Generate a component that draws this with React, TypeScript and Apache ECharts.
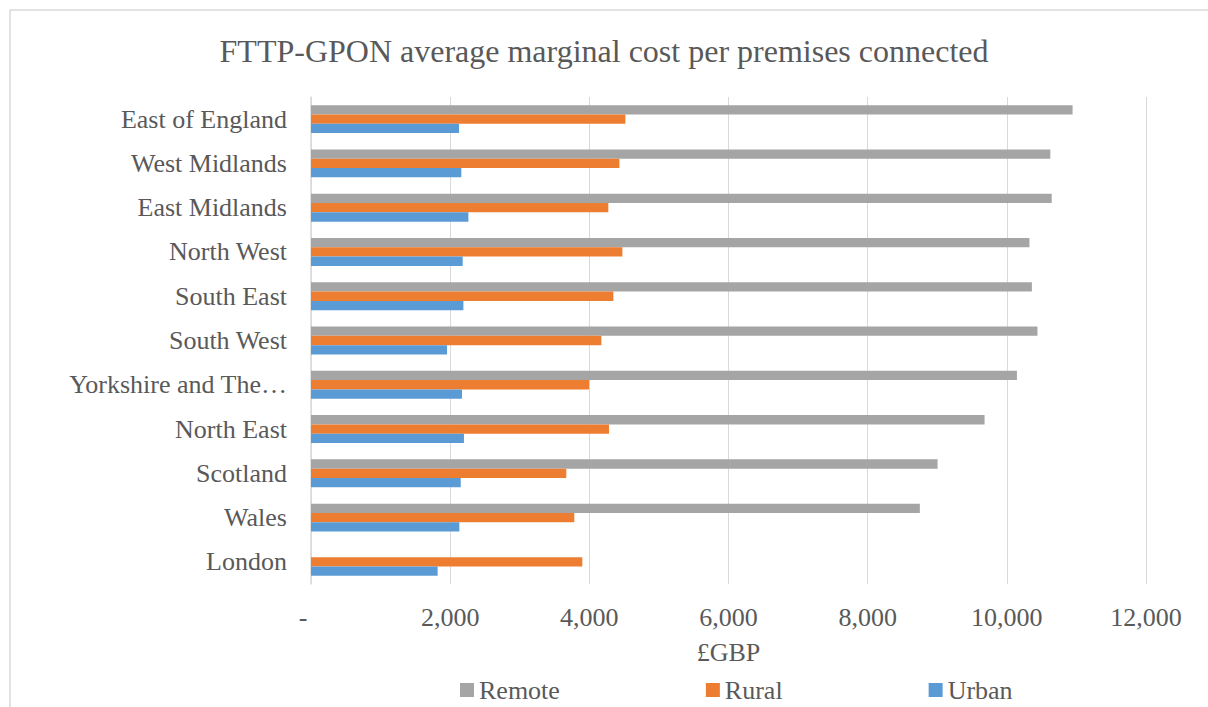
import React, { useEffect, useRef } from "react";
import * as echarts from "echarts";

const categories = [
  "East of England",
  "West Midlands",
  "East Midlands",
  "North West",
  "South East",
  "South West",
  "Yorkshire and The Humber",
  "North East",
  "Scotland",
  "Wales",
  "London",
];
const remote = [10945, 10625, 10645, 10325, 10360, 10440, 10145, 9680, 9005, 8750, 0];
const rural = [4518, 4432, 4273, 4475, 4345, 4173, 3996, 4283, 3669, 3784, 3899];
const urban = [2128, 2160, 2262, 2180, 2190, 1955, 2170, 2198, 2152, 2132, 1820];
const seriesNames = ["Remote", "Rural", "Urban"];
const colors = ["#A5A5A5", "#ED7D31", "#5B9BD5"];
const xTicks = { min: 0, max: 12000, interval: 2000 };

const FONT = "'Liberation Serif', 'Times New Roman', serif";
const TXT = "#595959";

export default function App() {
  const ref = useRef<HTMLDivElement>(null);
  useEffect(() => {
    if (!ref.current) return;
    const chart = echarts.init(ref.current, undefined, { renderer: "svg" });
    const data = [remote, rural, urban];
    chart.setOption({
      animation: false,
      backgroundColor: "#fff",
      textStyle: { fontFamily: FONT, color: TXT },
      title: {
        text: "FTTP-GPON average marginal cost per premises connected",
        left: "center",
        top: 35,
        padding: 0,
        textStyle: { fontFamily: FONT, fontSize: 32, fontWeight: "normal", color: TXT },
      },
      graphic: [
        {
          type: "rect",
          shape: { x: 10, y: 10, width: 1400, height: 900 },
          style: { fill: "none", stroke: "#d9d9d9", lineWidth: 1.5 },
          silent: true,
        },
      ],
      legend: {
        left: 455,
        top: 672,
        itemWidth: 14,
        itemHeight: 14,
        itemGap: 146,
        icon: "rect",
        textStyle: { fontFamily: FONT, fontSize: 26, color: TXT },
        data: seriesNames,
      },
      grid: { left: 311, right: 62, top: 97, bottom: 123, containLabel: false },
      xAxis: {
        type: "value",
        min: xTicks.min,
        max: xTicks.max,
        interval: xTicks.interval,
        name: "£GBP",
        nameLocation: "middle",
        nameGap: 55,
        nameTextStyle: { fontFamily: FONT, fontSize: 26, color: TXT },
        axisLine: { show: false },
        axisTick: { show: false },
        splitLine: { show: true, lineStyle: { color: "#d9d9d9", width: 1 } },
        axisLabel: {
          fontFamily: FONT,
          fontSize: 26,
          color: TXT,
          margin: 20,
          formatter: (v: number) => (v === 0 ? "{d|-}" : v.toLocaleString("en-US")),
          rich: { d: { fontFamily: FONT, fontSize: 26, color: TXT, padding: [0, 16, 0, 0] } },
        },
      },
      yAxis: {
        type: "category",
        inverse: true,
        data: categories,
        axisLine: { show: true, lineStyle: { color: "#d9d9d9", width: 1.5 } },
        axisTick: { show: false },
        axisLabel: {
          fontFamily: FONT,
          fontSize: 26,
          color: TXT,
          margin: 24,
          width: 222,
          overflow: "truncate",
          ellipsis: "…",
        },
      },
      series: seriesNames.map((name, i) => ({
        name,
        type: "bar",
        data: data[i],
        barGap: "0%",
        barCategoryGap: "37%",
        itemStyle: { color: colors[i] },
      })),
    });
    return () => chart.dispose();
  }, []);
  return (
    <div
      ref={ref}
      style={{ position: "fixed", left: 0, top: 0, width: 1208, height: 707 }}
    />
  );
}
